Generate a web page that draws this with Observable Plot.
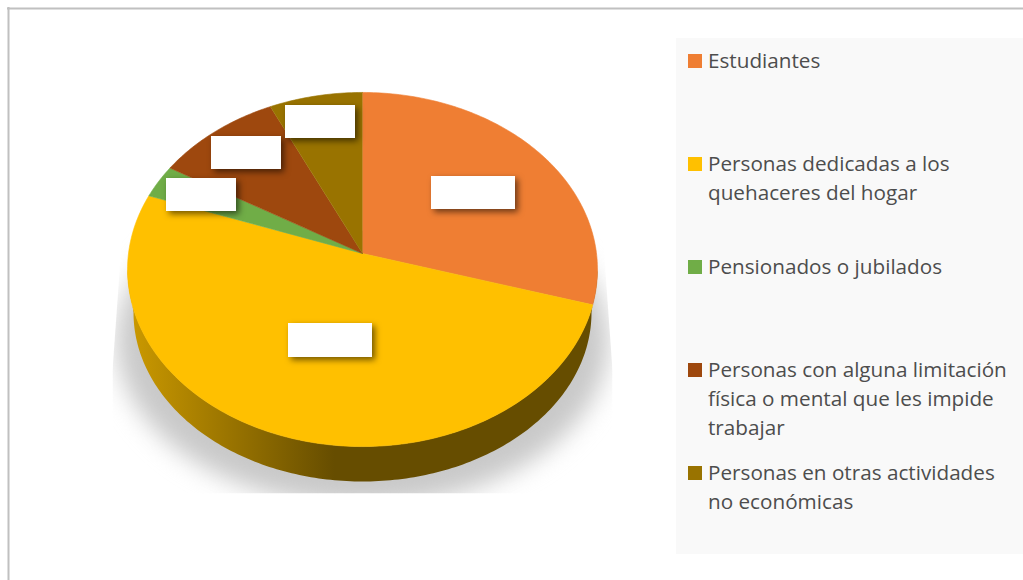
<!DOCTYPE html>
<html>
<head>
<meta charset="utf-8">
<script src="https://cdn.jsdelivr.net/npm/d3@7"></script>
<script src="https://cdn.jsdelivr.net/npm/@observablehq/plot@0.6"></script>
<style>
  html, body { margin: 0; padding: 0; background: #fff; overflow: hidden; }
  svg { display: block; }
  [aria-description="shadow"] { clip-path: url(#shadowClip); }
  [aria-description="shadow"] path { filter: blur(12px); }
  [aria-description="label box"] rect { filter: drop-shadow(3px 3px 3px rgba(0,0,0,.55)); }
</style>
</head>
<body>
<div id="chart"></div>
<script>
// ---- data (percent shares, clockwise from 12 o'clock)
const categories = [
  "Estudiantes",
  "Personas dedicadas a los quehaceres del hogar",
  "Pensionados o jubilados",
  "Personas con alguna limitación física o mental que les impide trabajar",
  "Personas en otras actividades no económicas"
];
const shares = [29.6, 50.9, 3.0, 9.5, 7.0];
const colors = ["#EF7E33", "#FFC000", "#70AD47", "#9E480E", "#997300"];
const legendLines = [
  ["Estudiantes"],
  ["Personas dedicadas a los", "quehaceres del hogar"],
  ["Pensionados o jubilados"],
  ["Personas con alguna limitación", "física o mental que les impide", "trabajar"],
  ["Personas en otras actividades", "no económicas"]
];

// ---- layout (page pixels)
const W = 1023, H = 580;
const apex = {x: 362, y: 253};
const persp = {cx: 234, a: 175.6, beta: 0.0904};
const rim = {x: 362, y: 268.5, rx: 235, ry: 177.5};
const base = {x: 362, y: 312, rx: 229, ry: 169};
const shadow = {x: 362, y: 340, rx: 246, ry: 165};
const legendFirstLineY = [61, 164, 267, 370, 473];
const legendLineStep = 29;
const labelBoxes = [
  {x1: 431, x2: 515, y1: 176, y2: 209},
  {x1: 288, x2: 372, y1: 323, y2: 357},
  {x1: 166, x2: 236, y1: 178, y2: 211},
  {x1: 211, x2: 281, y1: 136, y2: 169},
  {x1: 285, x2: 355, y1: 105, y2: 138}
];

// ---- geometry derived from the values
function project(deg) {
  const t = deg * Math.PI / 180, X = Math.sin(t), Y = -Math.cos(t), d = 1 - persp.beta * Y;
  return {x: apex.x + persp.cx * X / d, y: apex.y + persp.a * Y / d};
}
const slices = [];
let cum = 0;
categories.forEach((name, i) => {
  const a0 = cum * 3.6, a1 = (cum + shares[i]) * 3.6;
  slices.push({name, ...apex});
  const n = Math.max(2, Math.ceil(a1 - a0));
  for (let k = 0; k <= n; k++) slices.push({name, ...project(a0 + (a1 - a0) * k / n)});
  cum += shares[i];
});
function ellipsePts(e, from, to, n) {
  return d3.range(n + 1).map(k => {
    const t = (from + (to - from) * k / n) * Math.PI / 180;
    return {x: e.x + e.rx * Math.cos(t), y: e.y + e.ry * Math.sin(t)};
  });
}
const wall = [...ellipsePts(rim, 0, 180, 180), ...ellipsePts(base, 180, 0, 180)];
const shadowPts = ellipsePts(shadow, 0, 360, 240);

// ---- legend rows
const legendText = [], legendSwatches = [];
legendLines.forEach((lines, i) => {
  legendSwatches.push({name: categories[i], x1: 688, x2: 702, y1: legendFirstLineY[i] - 7, y2: legendFirstLineY[i] + 7});
  lines.forEach((t, j) => legendText.push({t, y: legendFirstLineY[i] + j * legendLineStep}));
});

// gradient + clip definitions
function defs() {
  const g = d3.create("svg:defs");
  const lg = g.append("linearGradient").attr("id", "wallFill")
    .attr("gradientUnits", "userSpaceOnUse")
    .attr("x1", 127).attr("x2", 597).attr("y1", 0).attr("y2", 0);
  lg.append("stop").attr("offset", 0).attr("stop-color", "#CC9A00");
  lg.append("stop").attr("offset", 0.44).attr("stop-color", "#664D00");
  lg.append("stop").attr("offset", 1).attr("stop-color", "#664D00");
  g.append("clipPath").attr("id", "shadowClip").append("polygon")
    .attr("points", "122,230 602,230 612,370 612,493 112,493 112,370");
  return g.node();
}

const chart = Plot.plot({
  width: W, height: H,
  margin: 0, marginTop: 0, marginRight: 0, marginBottom: 0, marginLeft: 0,
  style: {background: "#fff", overflow: "hidden"},
  x: {type: "linear", domain: [0, W], range: [0, W], axis: null},
  y: {type: "linear", domain: [0, H], range: [0, H], axis: null},
  color: {type: "ordinal", domain: categories, range: colors},
  marks: [
    defs,
    // outer frame
    Plot.ruleY([8], {x1: 7, x2: W, stroke: "#C0C0C0", strokeWidth: 2}),
    Plot.ruleX([8], {y1: 7, y2: H, stroke: "#C0C0C0", strokeWidth: 2}),
    // legend panel
    Plot.rect([{x1: 676, x2: W, y1: 38, y2: 554}], {x1: "x1", x2: "x2", y1: "y1", y2: "y2", fill: "#F9F9F9"}),
    // pie
    Plot.line(shadowPts, {x: "x", y: "y", fill: "#C9C9C9", stroke: "none", ariaDescription: "shadow"}),
    Plot.line(wall, {x: "x", y: "y", fill: "url(#wallFill)", stroke: "none", ariaDescription: "wall"}),
    Plot.line(slices, {x: "x", y: "y", z: "name", fill: "name", stroke: "name", strokeWidth: 0.6, ariaDescription: "slices"}),
    // blanked data labels
    Plot.rect(labelBoxes, {x1: "x1", x2: "x2", y1: "y1", y2: "y2", fill: "#fff", ariaDescription: "label box"}),
    // legend
    Plot.rect(legendSwatches, {x1: "x1", x2: "x2", y1: "y1", y2: "y2", fill: "name"}),
    Plot.text(legendText, {
      x: () => 707.5, y: "y", text: "t", textAnchor: "start", lineAnchor: "middle",
      fontFamily: "'Open Sans'", fontSize: 20.7, fill: "#4D4D4D"
    })
  ]
});
document.getElementById("chart").append(chart);
</script>
</body>
</html>
